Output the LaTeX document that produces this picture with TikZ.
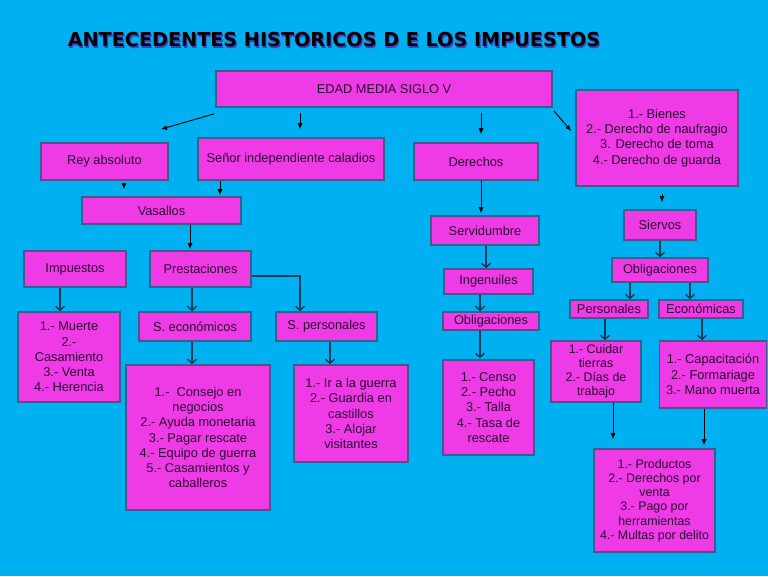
\documentclass[tikz,border=0pt]{standalone}
\usepackage{fontspec}
\setmainfont{Liberation Sans}
\newfontfamily\titlefont{DejaVu Sans}
\usetikzlibrary{arrows.meta,positioning,calc}
\definecolor{fondo}{HTML}{00B0F0}
\definecolor{caja}{HTML}{EE3BE6}
\definecolor{borde}{HTML}{3B5C8C}
\definecolor{letra}{HTML}{2B0A33}
\definecolor{linea}{HTML}{103A5A}

\tikzset{
  caja/.style={draw=borde, line width=1.6pt, fill=caja, text=letra,
    font=\fontsize{12.8}{15.2}\selectfont, align=center, inner sep=1pt},
  titulo/.style={font=\titlefont\bfseries\fontsize{19.2}{21}\selectfont},
  flechaA/.style={-{Latex[length=6pt,width=5pt]}, line width=0.9pt, black},
  flechaB/.style={-{Straight Barb[length=4pt,width=9pt]}, line width=1.4pt, linea},
}

\begin{document}
\begin{tikzpicture}[x=1pt,y=-1pt]
    \useasboundingbox (0,0) rectangle (768,576);
    \fill[fondo] (0,0) rectangle (768,576);

    % Title with its shadow
    \node[titulo, text=gray!50!blue] at (335.2,41.2) {ANTECEDENTES HISTORICOS D E LOS IMPUESTOS};
    \node[titulo, text=black] (titulo) at (334,40) {ANTECEDENTES HISTORICOS D E LOS IMPUESTOS};

    % First level
    \node[caja, minimum width=336pt, minimum height=36pt] (edad) at (384,89) {EDAD MEDIA SIGLO V};
    \node[caja, minimum width=162pt, minimum height=96pt] (bienes) at (657,138) {1.- Bienes\\2.- Derecho de naufragio\\3. Derecho de toma\\4.- Derecho de guarda};
    \node[caja, minimum width=127pt, minimum height=37pt] (rey) at (104.5,161.5) {Rey absoluto};
    \node[caja, minimum width=186pt, minimum height=42pt] (senor) at (291,159) {Señor independiente caladios};
    \node[caja, minimum width=124pt, minimum height=37pt] (derechos) at (476,161.5) {Derechos};

    % Second level
    \node[caja, minimum width=159pt, minimum height=27pt] (vasallos) at (161.5,210.5) {Vasallos};
    \node[caja, minimum width=108pt, minimum height=29pt] (servidumbre) at (485,230.5) {Servidumbre};
    \node[caja, minimum width=72pt, minimum height=30pt] (siervos) at (660,225) {Siervos};

    % Third level
    \node[caja, minimum width=102pt, minimum height=36pt] (impuestos) at (75,269) {Impuestos};
    \node[caja, minimum width=101pt, minimum height=36pt] (prestaciones) at (200.5,269) {Prestaciones};
    \node[caja, minimum width=89pt, minimum height=25pt] (ingenuiles) at (488.5,281.5) {Ingenuiles};
    \node[caja, minimum width=96pt, minimum height=24pt] (obligB) at (660,270) {Obligaciones};
    \node[caja, minimum width=78pt, minimum height=18pt] (personales) at (609,309) {Personales};
    \node[caja, minimum width=84pt, minimum height=18pt] (economicas) at (701,309) {Económicas};
    \node[caja, minimum width=96pt, minimum height=18pt] (obligA) at (491,321) {Obligaciones};
    \node[caja, minimum width=112pt, minimum height=29pt] (seco) at (195,326.5) {S. económicos};
    \node[caja, minimum width=101pt, minimum height=29pt] (spers) at (326.5,326.5) {S. personales};

    % Lists
    \node[caja, minimum width=102pt, minimum height=90pt] (muerte) at (69,357) {1.- Muerte\\2.-\\Casamiento\\3.- Venta\\4.- Herencia};
    \node[caja, minimum width=144pt, minimum height=145pt] (consejo) at (198,437.5) {1.-\ \ Consejo en\\negocios\\2.- Ayuda monetaria\\3.- Pagar rescate\\4.- Equipo de guerra\\5.- Casamientos y\\caballeros};
    \node[caja, minimum width=114pt, minimum height=97pt] (guerra) at (351,413.5) {1.- Ir a la guerra\\2.- Guardia en\\castillos\\3.- Alojar\\visitantes};
    \node[caja, minimum width=91pt, minimum height=95pt] (censo) at (488.5,407.5) {1.- Censo\\2.- Pecho\\3.- Talla\\4.- Tasa de\\rescate};
    \node[caja, minimum width=90pt, minimum height=61pt, font=\fontsize{12.4}{14}\selectfont] (cuidar) at (596,371.5) {1.- Cuidar\\tierras\\2.- Días de\\trabajo};
    \node[caja, minimum width=107pt, minimum height=67pt] (capac) at (713,374.5) {1.- Capacitación\\2.- Formariage\\3.- Mano muerta};
    \node[caja, minimum width=121pt, minimum height=103pt, font=\fontsize{12.4}{14.2}\selectfont] (productos) at (654.5,500.5) {1.- Productos\\2.- Derechos por\\venta\\3.- Pago por\\herramientas\\4.- Multas por delito};

    % Thin arrows
    \draw[flechaA] ([shift={(-1pt,-6pt)}]edad.south west) -- ([shift={(56.5pt,13pt)}]rey.north);
    \draw[flechaA, shorten <=5pt, shorten >=8pt] ([xshift=9pt]senor.north |- edad.south) -- ([xshift=9pt]senor.north);
    \draw[flechaA, shorten <=5pt, shorten >=8pt] ([xshift=5pt]derechos.north |- edad.south) -- ([xshift=5pt]derechos.north);
    \draw[flechaA] ([shift={(1pt,-3pt)}]edad.south east) -- ([shift={(-4pt,7pt)}]bienes.west);
    \draw[flechaA, shorten <=2pt, shorten >=7pt] ([xshift=19.5pt]rey.south) -- ([xshift=19.5pt]rey.south |- vasallos.north);
    \draw[flechaA, shorten >=1pt] ([xshift=-71pt]senor.south) -- ([xshift=-71pt]senor.south |- vasallos.north);
    \draw[flechaA, shorten >=1pt] ([xshift=28.5pt]vasallos.south) -- ([xshift=28.5pt]vasallos.south |- prestaciones.north);
    \draw[flechaA, shorten >=2pt] ([xshift=5pt]derechos.south) -- ([xshift=5pt]derechos.south |- servidumbre.north);
    \draw[flechaA, shorten <=7pt, shorten >=7pt] ([xshift=5pt]bienes.south) -- ([xshift=5pt]bienes.south |- siervos.north);
    \draw[flechaA, shorten >=9pt] ([xshift=17pt]cuidar.south) -- ([xshift=17pt]cuidar.south |- productos.north);
    \draw[flechaA, shorten >=3pt] ([xshift=-9pt]capac.south) -- ([xshift=-9pt]capac.south |- productos.north);

    % Thick arrows
    \draw[flechaB] ([xshift=-15pt]impuestos.south) -- ([xshift=-15pt]impuestos.south |- muerte.north);
    \draw[flechaB] ([xshift=-8.5pt]prestaciones.south) -- ([xshift=-8.5pt]prestaciones.south |- seco.north);
    \draw[flechaB] ([yshift=-7pt]prestaciones.east) -| ([xshift=-26.5pt]spers.north);
    \draw[flechaB] ([xshift=-3pt]seco.south) -- ([xshift=-3pt]seco.south |- consejo.north);
    \draw[flechaB] ([xshift=3.5pt]spers.south) -- ([xshift=3.5pt]spers.south |- guerra.north);
    \draw[flechaB] ([xshift=1pt]servidumbre.south) -- ([xshift=1pt]servidumbre.south |- ingenuiles.north);
    \draw[flechaB] ([xshift=-8.5pt]ingenuiles.south) -- ([xshift=-8.5pt]ingenuiles.south |- obligA.north);
    \draw[flechaB, shorten >=1pt] ([xshift=-11pt]obligA.south) -- ([xshift=-11pt]obligA.south |- censo.north);
    \draw[flechaB] (siervos.south) -- (obligB.north);
    \draw[flechaB] ([xshift=-30pt]obligB.south) -- ([xshift=-30pt]obligB.south |- personales.north);
    \draw[flechaB] ([xshift=30pt]obligB.south) -- ([xshift=30pt]obligB.south |- economicas.north);
    \draw[flechaB] ([xshift=-4pt]personales.south) -- ([xshift=-4pt]personales.south |- cuidar.north);
    \draw[flechaB] ([xshift=1pt]economicas.south) -- ([xshift=1pt]economicas.south |- capac.north);
\end{tikzpicture}
\end{document}
